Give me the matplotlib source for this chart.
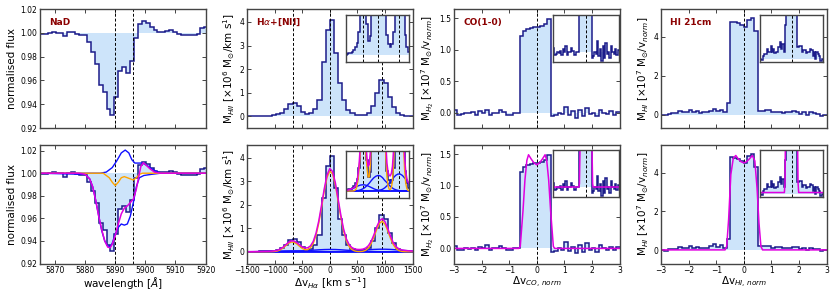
import numpy as np
import matplotlib.pyplot as plt

# ---------------- data ----------------
# NaD absorption (normalised flux per wavelength bin)
nad_edges = 5865.0 + 1.3 * np.arange(44)
nad_flux = [0.9992, 0.9992, 1.0, 1.0008, 1.0, 1.0, 0.997, 1.0003, 1.001, 0.999,
            0.9985, 0.998, 0.9925, 0.984, 0.974, 0.956, 0.950, 0.936, 0.931, 0.946,
            0.968, 0.971, 0.966, 0.976, 0.9955, 1.007, 1.0096, 1.008, 1.005, 1.002,
            1.001, 1.001, 1.0015, 1.002, 1.001, 0.999, 0.9985, 0.998, 0.998, 0.9985,
            0.999, 1.004, 1.005]
nad_lines = [5889.95, 5895.92]

nad_model_wl = [5865, 5878, 5880, 5881.5, 5882.5, 5883.5, 5884.5, 5885.5, 5886.5, 5887.5,
                5888.3, 5889, 5890, 5891, 5892, 5893, 5894, 5895, 5896, 5897,
                5897.8, 5898.5, 5899.3, 5900.3, 5901.5, 5903, 5905, 5920]
nad_model = [1.0, 1.0, 0.999, 0.995, 0.988, 0.976, 0.962, 0.950, 0.940, 0.9345,
             0.934, 0.937, 0.945, 0.955, 0.964, 0.969, 0.971, 0.974, 0.977, 0.986,
             0.997, 1.006, 1.0093, 1.007, 1.004, 1.001, 1.0, 1.0]
nad_abs_wl = [5865, 5880, 5881.5, 5882.5, 5883.5, 5884.5, 5885.5, 5886.5, 5887.5, 5888.3,
              5889, 5890, 5891, 5892, 5893, 5894, 5895, 5896, 5897, 5898,
              5899.5, 5902, 5905, 5920]
nad_abs = [1.0, 0.999, 0.995, 0.988, 0.976, 0.962, 0.949, 0.940, 0.9355, 0.935,
           0.938, 0.946, 0.952, 0.955, 0.954, 0.955, 0.962, 0.974, 0.988, 0.996,
           0.998, 0.999, 1.0, 1.0]
nad_em_wl = [5865, 5885, 5887, 5889, 5890.5, 5892, 5893.3, 5894.5, 5895.5, 5896.5,
             5897.5, 5899, 5900.5, 5902, 5904, 5906, 5920]
nad_em = [1.0, 1.0, 1.001, 1.005, 1.011, 1.018, 1.0205, 1.018, 1.012, 1.009,
          1.009, 1.009, 1.007, 1.004, 1.001, 1.0, 1.0]
nad_star_wl = [5865, 5886, 5888, 5889, 5890, 5891, 5892, 5893, 5894, 5895,
               5896, 5897, 5898, 5899, 5920]
nad_star = [1.0, 1.0, 0.996, 0.992, 0.989, 0.992, 0.996, 0.997, 0.996, 0.995,
            0.994, 0.996, 0.999, 1.0, 1.0]

# H-alpha + [NII]  (x 10^6 Msun / km s^-1)
ha_edges = np.arange(-1500, 1501, 75)
ha_mass = [0.003, 0.006, 0.01, 0.015, 0.02, 0.03, 0.05, 0.08, 0.15, 0.3,
           0.5, 0.55, 0.42, 0.2, 0.09, 0.12, 0.3, 0.7, 2.3, 3.65,
           4.07, 2.7, 1.4, 0.7, 0.27, 0.13, 0.07, 0.05, 0.07, 0.15,
           0.45, 1.0, 1.55, 1.4, 0.8, 0.38, 0.13, 0.05, 0.02, 0.01]
ha_lines = [-674, 0, 943]

ha_v = np.arange(-1500, 1501, 50)
ha_model = [0.003, 0.004, 0.005, 0.007, 0.01, 0.012, 0.014, 0.017, 0.021, 0.028, 0.04,
            0.065, 0.115, 0.19, 0.30, 0.40, 0.465, 0.46, 0.395, 0.30, 0.21,
            0.16, 0.17, 0.25, 0.44, 0.79, 1.31, 1.98, 2.69, 3.27, 3.55,
            3.42, 2.95, 2.26, 1.56, 0.97, 0.55, 0.31, 0.18, 0.122, 0.10,
            0.097, 0.113, 0.158, 0.26, 0.45, 0.73, 1.06, 1.32, 1.41, 1.28,
            0.99, 0.67, 0.39, 0.22, 0.127, 0.082, 0.06, 0.048, 0.039, 0.031]
ha_narrow = [0, 0, 0, 0, 0, 0, 0, 0, 0.001, 0.004, 0.012,
             0.033, 0.079, 0.153, 0.255, 0.354, 0.414, 0.407, 0.336, 0.236, 0.143,
             0.089, 0.091, 0.169, 0.353, 0.69, 1.21, 1.88, 2.59, 3.17, 3.44,
             3.32, 2.85, 2.16, 1.46, 0.88, 0.467, 0.222, 0.093, 0.035, 0.012,
             0.009, 0.021, 0.062, 0.161, 0.347, 0.625, 0.95, 1.21, 1.30, 1.17,
             0.887, 0.566, 0.30, 0.136, 0.052, 0.016, 0.004, 0.001, 0, 0]

ha_vb = np.arange(-1500, 1501, 100)
ha_broad1 = [0.003, 0.005, 0.008, 0.013, 0.019, 0.026, 0.033, 0.038, 0.04, 0.039,
             0.035, 0.029, 0.022, 0.015, 0.009, 0.005, 0.003, 0.001, 0.0005, 0,
             0, 0, 0, 0, 0, 0, 0, 0, 0, 0, 0]
ha_broad2 = [0, 0, 0.0002, 0.0003, 0.0007, 0.0015, 0.003, 0.007, 0.013, 0.022,
             0.035, 0.05, 0.068, 0.084, 0.095, 0.1, 0.097, 0.086, 0.068, 0.054,
             0.038, 0.024, 0.014, 0.008, 0.004, 0.0015, 0.0007, 0.0003, 0.0001, 0, 0]
ha_broad3 = [0, 0, 0, 0, 0, 0, 0, 0, 0, 0,
             0, 0, 0, 0, 0.001, 0.003, 0.006, 0.011, 0.02, 0.033,
             0.049, 0.068, 0.086, 0.101, 0.109, 0.109, 0.10, 0.084, 0.066, 0.047, 0.031]

# CO(1-0)  (x 10^7 Msun / v_norm)
co_edges = np.linspace(-3, 3, 49)
co_mass = [0.04, -0.03, -0.02, 0.0, -0.01, 0.01, -0.03, 0.03, 0.0, 0.05,
           -0.03, 0.0, 0.0, 0.04, 0.01, -0.03, -0.03, 0.0, 0.0, 1.22,
           1.30, 1.33, 1.35, 1.36, 1.36, 1.37, 1.40, 1.48, -0.05, -0.04,
           0.0, -0.02, 0.10, -0.04, 0.03, -0.08, 0.05, -0.05, 0.08, -0.02,
           0.0, -0.05, 0.05, 0.0, -0.02, 0.03, -0.03, 0.02]
co_model_v = [-3, -0.65, -0.6, -0.5, -0.43, -0.36, -0.3, -0.2, -0.1, 0,
              0.1, 0.2, 0.3, 0.36, 0.43, 0.5, 0.6, 0.65, 3]
co_model = [0, 0, 0.03, 0.6, 1.09, 1.4, 1.49, 1.42, 1.36, 1.33,
            1.36, 1.42, 1.49, 1.4, 1.09, 0.6, 0.03, 0, 0]

# HI 21cm  (x 10^7 Msun / v_norm)
hi_edges = np.linspace(-3, 3, 49)
hi_mass = [0.0, -0.02, 0.05, 0.08, 0.08, 0.17, 0.12, 0.12, 0.22, 0.12,
           0.17, 0.1, 0.12, 0.12, 0.2, 0.3, 0.17, 0.26, 0.12, 0.6,
           4.78, 4.75, 4.7, 4.58, 4.48, 4.85, 4.95, 4.3, 0.2, 0.2,
           0.22, 0.22, 0.12, 0.15, 0.15, 0.1, 0.12, 0.12, 0.17, 0.15,
           0.05, 0.12, 0.0, 0.12, 0.08, 0.05, -0.05, 0.0]
hi_model_v = [-3, -0.68, -0.62, -0.55, -0.47, -0.38, -0.29, -0.2, -0.1, 0,
              0.1, 0.2, 0.31, 0.4, 0.48, 0.55, 0.62, 0.68, 3]
hi_model = [0.02, 0.02, 0.2, 1.6, 3.9, 4.75, 4.88, 4.7, 4.56, 4.5,
            4.56, 4.7, 4.88, 4.6, 3.2, 1.4, 0.2, 0.02, 0.02]

# ---------------- style ----------------
LINE = '#1c1c8a'
FILL = '#cde4fa'
MAG = '#e000e0'
ORG = '#ffa500'
BLU = '#1010ff'
FRAME = '#444444'
TICK_FS = 5.5
LAB_FS = 7.5

fig = plt.figure(figsize=(8.3, 2.91), dpi=100)

lefts = [0.0482, 0.2976, 0.547, 0.7964]
width = 0.1995
top_b, top_h = 0.5601, 0.4089
bot_b, bot_h = 0.0945, 0.4072


def style(ax, fs=TICK_FS):
    ax.tick_params(direction='in', top=True, right=True, labelsize=fs,
                   length=3, width=0.7, color=FRAME, pad=2)
    for s in ax.spines.values():
        s.set_color(FRAME)
        s.set_linewidth(1.0)


def spectrum(ax, edges, vals, base):
    ax.stairs(vals, edges, baseline=base, fill=True, color=FILL, lw=0)
    ax.stairs(vals, edges, baseline=None, color=LINE, lw=1.1)


def vlines(ax, xs):
    for x in xs:
        ax.axvline(x, color='k', ls='--', lw=0.7, dashes=(3, 2))


def inset(rect, xlim, ylim):
    a = fig.add_axes(rect)
    a.set_xlim(*xlim)
    a.set_ylim(*ylim)
    a.set_xticks([])
    a.set_yticks([])
    for s in a.spines.values():
        s.set_color(FRAME)
        s.set_linewidth(1.0)
    return a


def tag(ax, text):
    ax.text(0.055, 0.89, text, transform=ax.transAxes, color='#8b0000',
            fontsize=6.5, fontweight='bold', va='center', ha='left')


# ---- column 1 : NaD ----
for row in range(2):
    b, h = (top_b, top_h) if row == 0 else (bot_b, bot_h)
    ax = fig.add_axes([lefts[0], b, width, h])
    spectrum(ax, nad_edges, nad_flux, 1.0)
    vlines(ax, nad_lines)
    ax.set_xlim(5865, 5920)
    ax.set_yticks([0.92, 0.94, 0.96, 0.98, 1.00, 1.02])
    ax.set_ylabel('normalised flux', fontsize=LAB_FS, labelpad=2)
    style(ax)
    if row == 0:
        ax.set_ylim(0.92, 1.02)
        ax.set_xticklabels([])
        tag(ax, 'NaD')
    else:
        ax.plot(nad_em_wl, nad_em, color=BLU, lw=1.0)
        ax.plot(nad_abs_wl, nad_abs, color=BLU, lw=1.0)
        ax.plot(nad_star_wl, nad_star, color=ORG, lw=1.0)
        ax.plot(nad_model_wl, nad_model, color=MAG, lw=1.1)
        ax.set_ylim(0.92, 1.025)
        ax.set_xlabel(r'wavelength [$\AA$]', fontsize=LAB_FS, labelpad=0)

# ---- column 2 : H-alpha + [NII] ----
ha_ylab = r'M$_{HII}$ [$\times$10$^6$ M$_{\odot}$/km s$^{1}$]'
for row in range(2):
    b, h = (top_b, top_h) if row == 0 else (bot_b, bot_h)
    ax = fig.add_axes([lefts[1], b, width, h])
    spectrum(ax, ha_edges, ha_mass, 0.0)
    vlines(ax, ha_lines)
    ax.set_xlim(-1500, 1500)
    ax.set_ylim(-0.5, 4.55)
    ax.set_yticks([0, 1, 2, 3, 4])
    ax.set_xticks([-1500, -1000, -500, 0, 500, 1000, 1500])
    ax.set_ylabel(ha_ylab, fontsize=LAB_FS, labelpad=2)
    style(ax)
    ins_b = 0.7869 if row == 0 else 0.3196
    ins = inset([0.4169, ins_b, 0.0759, 0.163], (-1450, 1400), (-0.045, 0.26))
    spectrum(ins, ha_edges, ha_mass, 0.0)
    vlines(ins, ha_lines)
    if row == 0:
        ax.set_xticklabels([])
        tag(ax, r'H$\alpha$+[NII]')
    else:
        for a in (ax, ins):
            a.axhline(0, color=BLU, lw=1.2)
            for comp in (ha_broad1, ha_broad2, ha_broad3):
                a.plot(ha_vb, comp, color=BLU, lw=1.0)
            a.plot(ha_v, ha_narrow, color=ORG, lw=1.0)
            a.plot(ha_v, ha_model, color=MAG, lw=1.1)
        ax.set_xlabel(r'$\Delta$v$_{H\alpha}$ [km s$^{-1}$]', fontsize=LAB_FS, labelpad=0)

# ---- columns 3 and 4 : CO(1-0) and HI 21cm ----
panels = [
    (co_edges, co_mass, co_model_v, co_model, (-0.24, 1.645), [0.0, 0.5, 1.0, 1.5],
     r'M$_{H_2}$ [$\times$10$^7$ M$_{\odot}$/v$_{norm}$]', r'$\Delta$v$_{CO,\,norm}$',
     'CO(1-0)', (-0.09, 0.33), 0.6663, 0.0795, '%.1f'),
    (hi_edges, hi_mass, hi_model_v, hi_model, (-0.68, 5.42), [0, 2, 4],
     r'M$_{HI}$ [$\times$10$^7$ M$_{\odot}$/v$_{norm}$]', r'$\Delta$v$_{HI,\,norm}$',
     'HI 21cm', (-0.06, 0.77), 0.9157, 0.0759, '%d'),
]
for k, (edges, mass, mv, mm, ylim, yt, ylab, xlab, name, iyl, ileft, iw, fmt) in enumerate(panels):
    for row in range(2):
        b, h = (top_b, top_h) if row == 0 else (bot_b, bot_h)
        ax = fig.add_axes([lefts[2 + k], b, width, h])
        spectrum(ax, edges, mass, 0.0)
        vlines(ax, [0])
        ax.set_xlim(-3, 3)
        ax.set_ylim(*ylim)
        ax.set_yticks(yt)
        ax.set_yticklabels([fmt % t for t in yt])
        ax.set_xticks([-3, -2, -1, 0, 1, 2, 3])
        ax.set_ylabel(ylab, fontsize=LAB_FS, labelpad=2)
        style(ax)
        ins_b = 0.7869 if row == 0 else 0.3230
        ins = inset([ileft, ins_b, iw, 0.160], (-3, 3), iyl)
        spectrum(ins, edges, mass, 0.0)
        vlines(ins, [0])
        if row == 0:
            ax.set_xticklabels([])
            tag(ax, name)
        else:
            ax.plot(mv, mm, color=MAG, lw=1.1)
            ins.plot(mv, mm, color=MAG, lw=1.1)
            ax.set_xlabel(xlab, fontsize=LAB_FS, labelpad=0)

fig.savefig('out.png', dpi=100)
